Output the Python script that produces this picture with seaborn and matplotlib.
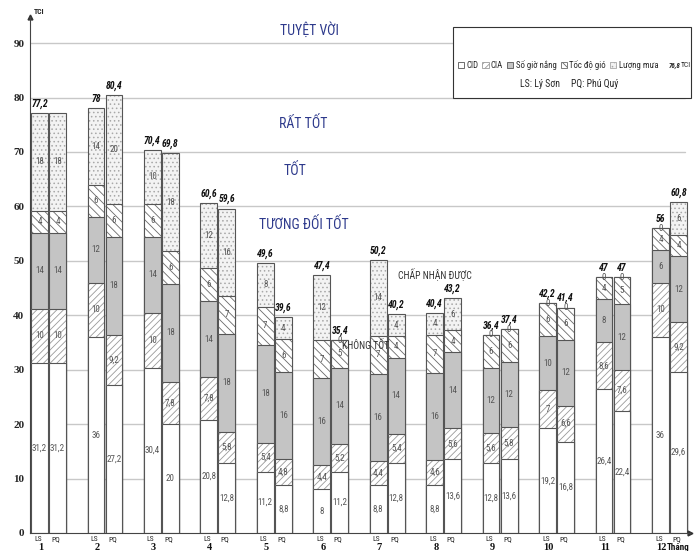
import pandas as pd
import matplotlib
matplotlib.use('Agg')
import matplotlib.pyplot as plt
from matplotlib.patches import Patch, Rectangle
import seaborn as sns

sns.set_style('white')
plt.rcParams['font.family'] = ['Roboto Condensed', 'Roboto', 'DejaVu Sans']
plt.rcParams['hatch.linewidth'] = 0.6

months = [str(m) for m in range(1, 13)]
stations = ['LS', 'PQ']
layer_names = ['CID', 'CIA', 'Số giờ nắng', 'Tốc độ gió', 'Lượng mưa']

cid_ls = [31.2, 36, 30.4, 20.8, 11.2, 8, 8.8, 8.8, 12.8, 19.2, 26.4, 36]
cid_pq = [31.2, 27.2, 20, 12.8, 8.8, 11.2, 12.8, 13.6, 13.6, 16.8, 22.4, 29.6]
cia_ls = [10, 10, 10, 7.8, 5.4, 4.4, 4.4, 4.6, 5.6, 7, 8.6, 10]
cia_pq = [10, 9.2, 7.8, 5.8, 4.8, 5.2, 5.4, 5.6, 5.8, 6.6, 7.6, 9.2]
sun_ls = [14, 12, 14, 14, 18, 16, 16, 16, 12, 10, 8, 6]
sun_pq = [14, 18, 18, 18, 16, 14, 14, 14, 12, 12, 12, 12]
wind_ls = [4, 6, 6, 6, 7, 7, 7, 7, 6, 6, 4, 4]
wind_pq = [4, 6, 6, 7, 6, 5, 4, 4, 6, 6, 5, 4]
rain_ls = [18, 14, 10, 12, 8, 12, 14, 4, 0, 0, 0, 0]
rain_pq = [18, 20, 18, 16, 4, 0, 4, 6, 0, 0, 0, 6]
# the first PQ bar carries no total label in the source
total_shown_pq = [False] + [True] * 11

bands = ['TUYỆT VỜI', 'RẤT TỐT', 'TỐT', 'TƯƠNG ĐỐI TỐT']
band_x = [4.63, 4.51, 4.37, 4.53]
band_y = [92.4, 75.3, 66.5, 56.6]

df = pd.DataFrame({
    'month': months * 2,
    'station': ['LS'] * 12 + ['PQ'] * 12,
    'CID': cid_ls + cid_pq,
    'CIA': cia_ls + cia_pq,
    'Số giờ nắng': sun_ls + sun_pq,
    'Tốc độ gió': wind_ls + wind_pq,
    'Lượng mưa': rain_ls + rain_pq,
})
cum_cols = []
for i, name in enumerate(layer_names):
    df['cum_' + str(i)] = df[layer_names[:i + 1]].sum(axis=1)
    cum_cols.append('cum_' + str(i))

# face, hatch, hatch colour
styles = [
    ('white', None, '#555555'),
    ('white', '/////', '#9a9a9a'),
    ('#c4c4c4', None, '#555555'),
    ('white', '\\\\\\\\', '#6a6a6a'),
    ('#f3f3f3', '....', '#a8a8a8'),
]
line_col = '#555555'

fig = plt.figure(figsize=(6.97, 5.51), dpi=100)
ax = fig.add_axes([0.043, 0.0327, 0.947, 0.9365])


def draw_layer(col, face, hatch, edge, lw):
    n0 = len(ax.containers)
    sns.barplot(data=df, x='month', y=col, hue='station', order=months, hue_order=stations,
                palette=['white', 'white'], width=0.64, gap=0.07, errorbar=None,
                legend=False, ax=ax)
    conts = ax.containers[n0:]
    for cont in conts:
        for p in cont:
            p.set_facecolor(face)
            p.set_edgecolor(edge)
            p.set_hatch(hatch)
            p.set_linewidth(lw)
    return conts


# overlapping cumulative bars, tallest first
for i in reversed(range(5)):
    face, hatch, hcol = styles[i]
    draw_layer(cum_cols[i], face, hatch, hcol, 0)
    conts = draw_layer(cum_cols[i], 'none', None, line_col, 0.8)

# bar centres from the bottom layer
centres = {st: [p.get_x() + p.get_width() / 2 for p in c] for st, c in zip(stations, conts)}


def fmt(v):
    return ('%g' % round(v, 1)).replace('.', ',')


xtr = ax.get_xaxis_transform()
for st in stations:
    sub = df[df['station'] == st].reset_index(drop=True)
    for j in range(12):
        xc = centres[st][j]
        below = 0
        for name in layer_names:
            v = sub.loc[j, name]
            ax.text(xc, below + v / 2, fmt(v), ha='center', va='center',
                    fontsize=6.5, color='#555555', zorder=5)
            below += v
        if st == 'LS' or total_shown_pq[j]:
            ax.annotate(fmt(below), (xc, below), xytext=(0, 3), textcoords='offset points',
                        ha='center', va='bottom', fontsize=7, fontweight='bold',
                        fontstyle='italic', color='#111111')
        ax.annotate(st, (xc - 0.03, 0), xycoords=xtr, xytext=(0, -2),
                    textcoords='offset points', ha='center', va='top', fontsize=5.5,
                    color='#222222')
        if st == 'LS':
            ax.annotate(months[j], (xc + 0.02, 0), xycoords=xtr, xytext=(0, -12),
                        textcoords='offset points', ha='center', va='baseline',
                        fontsize=7.5, fontweight='bold', family='Liberation Serif',
                        color='#111111')

ax.annotate('Tháng', (centres['PQ'][-1], 0), xycoords=xtr, xytext=(0, -12),
            textcoords='offset points', ha='center', va='baseline', fontsize=6.5,
            fontweight='bold', color='#111111')

for name, x, y in zip(bands, band_x, band_y):
    ax.text(x, y, name, ha='center', va='center', fontsize=10, color='#2e3a8c')
ax.text(6.84, 47.4, 'CHẤP NHẬN ĐƯỢC', ha='center', va='center', fontsize=7, color='#333333')
ax.text(5.62, 34.5, 'KHÔNG TỐT', ha='center', va='center', fontsize=7, color='#333333', zorder=6)

ax.set_xlim(-0.328, 11.364)
ax.set_ylim(0, 94.8)
ax.set_xticks([])
ax.set_yticks(range(0, 91, 10))
ax.set_yticklabels([str(v) for v in range(0, 91, 10)], family='Liberation Serif',
                   fontweight='bold', fontsize=8)
ax.tick_params(axis='y', length=0, pad=4)
ax.set_xlabel('')
ax.set_ylabel('')
for y in range(10, 91, 10):
    ax.axhline(y, color='#c8c8c8', lw=1, zorder=0.5, xmax=0.992)
ax.set_axisbelow(True)
sns.despine(ax=ax)
for s in ['left', 'bottom']:
    ax.spines[s].set_color('#444444')
    ax.spines[s].set_linewidth(0.8)
ax.plot(0, 1, marker='^', ms=3.5, color='#333333', transform=ax.transAxes, clip_on=False)
ax.plot(1, 0, marker='>', ms=3.5, color='#333333', transform=ax.transAxes, clip_on=False)
ax.text(0.006, 1.003, 'TCI', transform=ax.transAxes, fontsize=5.5, fontweight='bold',
        ha='left', va='bottom')

# legend box
fig.add_artist(Rectangle((0.650, 0.8221), 0.3415, 0.1289, transform=fig.transFigure,
                         facecolor='white', edgecolor='#333333', lw=0.8))
handles = [Patch(facecolor=f, edgecolor=h, hatch=ht, lw=0.6) for f, ht, h in styles]
fig.legend(handles, layer_names, loc='center left', bbox_to_anchor=(456 / 697, 1 - 65 / 551),
           ncol=5, frameon=False, fontsize=6.3, handlelength=0.7, handleheight=0.7,
           handletextpad=0.25, columnspacing=0.5, borderpad=0.2, borderaxespad=0)
fig.text(680 / 697, 1 - 65 / 551, '76,8', fontsize=5, fontweight='bold', fontstyle='italic',
         ha='right', va='center')
fig.text(681 / 697, 1 - 65 / 551, 'TCI', fontsize=5.5, ha='left', va='center')
fig.text(540 / 697, 1 - 84 / 551, 'LS: Lý Sơn', fontsize=7, ha='center', va='center')
fig.text(595 / 697, 1 - 84 / 551, 'PQ: Phú Quý', fontsize=7, ha='center', va='center')

fig.savefig('out.png', dpi=100)
